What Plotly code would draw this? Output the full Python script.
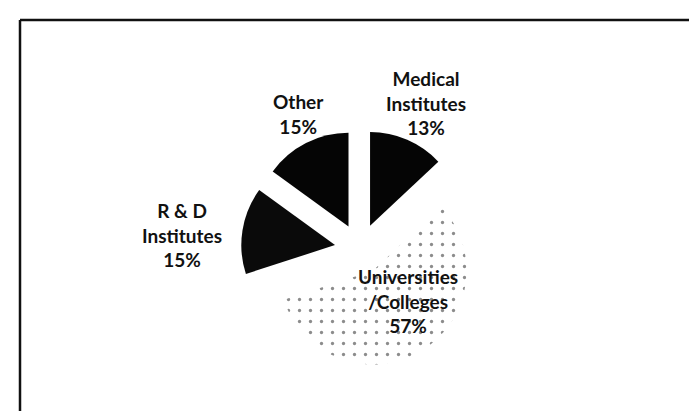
import plotly.graph_objects as go

W, H = 697, 411

# Data
categories = ["Medical Institutes", "Universities /Colleges", "R & D Institutes", "Other"]
label_lines = [["Medical", "Institutes"], ["Universities", "/Colleges"], ["R & D", "Institutes"], ["Other"]]
values = [13, 57, 15, 15]

# Styles
slice_colors = ["#050505", "#ffffff", "#0a0a0a", "#050505"]
slice_patterns = ["", ".", "", ""]
label_pos = [(418, 95), (400, 293), (174, 227), (290, 106)]  # pixel centres of label blocks

cx, cy, half = 352, 241, 119  # pie domain centre and half-size in pixels

fig = go.Figure()
fig.add_trace(go.Pie(
    labels=categories,
    values=values,
    sort=False,
    direction="clockwise",
    rotation=0,
    pull=[0.27] * len(values),
    textinfo="none",
    hoverinfo="label+percent",
    marker=dict(
        colors=slice_colors,
        line=dict(width=0),
        pattern=dict(shape=slice_patterns, fgcolor="#1a1a1a", bgcolor="#ffffff",
                     size=11, solidity=0.07, fillmode="overlay"),
    ),
    domain=dict(x=[(cx - half) / W, (cx + half) / W],
                y=[(H - cy - half) / H, (H - cy + half) / H]),
    showlegend=False,
))

total = sum(values)
for lines, v, (px, py) in zip(label_lines, values, label_pos):
    txt = "<br>".join(lines + [f"{round(100 * v / total)}%"])
    fig.add_annotation(
        x=px / W, y=1 - py / H, xref="paper", yref="paper",
        text=txt, showarrow=False, xanchor="center", yanchor="middle",
        font=dict(family="Lato", size=19, color="#111111", weight="bold"),
        align="center",
    )

# frame (top and left edges only)
fig.add_shape(type="line", xref="paper", yref="paper",
              x0=12 / W, x1=1, y0=1 - 12 / H, y1=1 - 12 / H,
              line=dict(color="#111111", width=2.5))
fig.add_shape(type="line", xref="paper", yref="paper",
              x0=12 / W, x1=12 / W, y0=0, y1=1 - 12 / H,
              line=dict(color="#111111", width=2.5))

fig.update_layout(
    width=W, height=H,
    margin=dict(l=0, r=0, t=0, b=0),
    paper_bgcolor="white",
    plot_bgcolor="white",
)

fig.write_html("out.html")
